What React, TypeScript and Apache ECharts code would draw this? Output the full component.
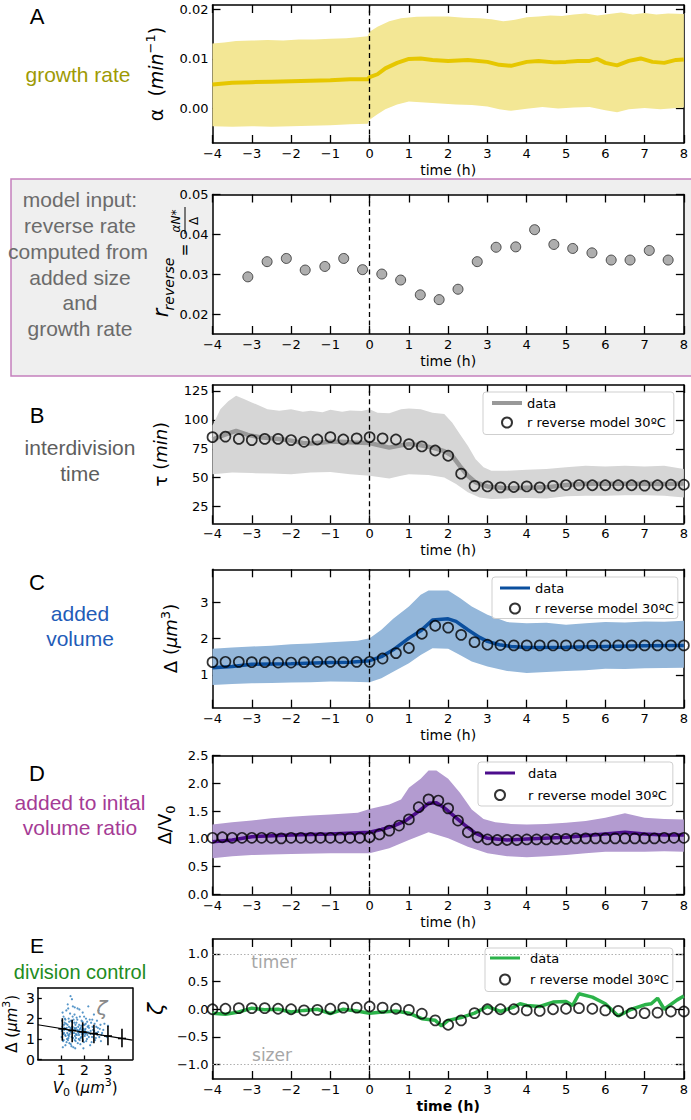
import React, { useEffect, useRef } from "react";
import * as echarts from "echarts";

const FONT = "DejaVu Sans";
const SANS = "Liberation Sans";
const MODEL_LABEL = "r reverse model 30ºC";

// ---------- ticks ----------
const timeTicks = [-4, -3, -2, -1, 0, 1, 2, 3, 4, 5, 6, 7, 8];
const alphaTicks = [0, 0.01, 0.02];
const rTicks = [0.02, 0.03, 0.04, 0.05];
const tauTicks = [25, 50, 75, 100, 125];
const volTicks = [1, 2, 3];
const ratioTicks = [0, 0.5, 1, 1.5, 2, 2.5];
const zetaTicks = [-1, -0.5, 0, 0.5, 1];
const insetXTicks = [1, 2, 3];
const insetYTicks = [0, 1, 2, 3];

// ---------- A: growth rate ----------
const alphaMean = [[-4, 0.00485], [-3.5, 0.0052], [-3, 0.0053], [-2.5, 0.0054], [-2, 0.0055], [-1.5, 0.0056], [-1, 0.0057], [-0.5, 0.0059], [-0.05, 0.0059], [0, 0.0063], [0.2, 0.0069], [0.4, 0.0081], [0.7, 0.0092], [1, 0.01], [1.3, 0.0101], [1.6, 0.0098], [2, 0.0096], [2.5, 0.0098], [3, 0.0094], [3.3, 0.0088], [3.6, 0.0086], [4, 0.0094], [4.3, 0.0096], [4.7, 0.0093], [5, 0.0094], [5.3, 0.0096], [5.6, 0.0096], [5.8, 0.01], [6, 0.0092], [6.3, 0.0087], [6.6, 0.0096], [6.9, 0.0101], [7.2, 0.0094], [7.5, 0.0092], [7.8, 0.0098], [8, 0.0099]];
const alphaUpper = [[-4, 0.0131], [-3.7, 0.0133], [-3.4, 0.0136], [-3, 0.0137], [-2.6, 0.0138], [-2.2, 0.0137], [-1.8, 0.0139], [-1.4, 0.0139], [-1, 0.0141], [-0.6, 0.0142], [-0.3, 0.0144], [-0.05, 0.0146], [0, 0.0155], [0.2, 0.0165], [0.5, 0.0176], [0.8, 0.0182], [1.2, 0.0185], [1.6, 0.0186], [2, 0.0186], [2.4, 0.0183], [2.8, 0.0182], [3.1, 0.018], [3.4, 0.0176], [3.7, 0.0179], [4, 0.0184], [4.3, 0.0186], [4.6, 0.0188], [4.9, 0.0187], [5.2, 0.019], [5.5, 0.0192], [5.8, 0.0188], [6.1, 0.0191], [6.4, 0.0194], [6.7, 0.019], [7, 0.0193], [7.3, 0.019], [7.6, 0.0192], [8, 0.0191]];
const alphaLower = [[-4, -0.0036], [-3.5, -0.0037], [-3, -0.0036], [-2.5, -0.0037], [-2, -0.0036], [-1.5, -0.0035], [-1, -0.0034], [-0.5, -0.0032], [-0.05, -0.0031], [0, -0.0023], [0.2, -0.0012], [0.4, -0.0002], [0.7, 0.0008], [1, 0.0014], [1.4, 0.0012], [1.8, 0.001], [2.2, 0.0008], [2.6, 0.0007], [3, 0.0004], [3.3, -0.0002], [3.6, -0.0005], [4, -0.0001], [4.4, 0.0003], [4.8, 0], [5.2, 0.0002], [5.6, 0.0003], [6, -0.0004], [6.3, -0.0008], [6.6, -0.0002], [7, 0.0001], [7.4, -0.0002], [8, 0.0002]];

// ---------- reverse rate ----------
const rRevTime = [-3.1, -2.61, -2.12, -1.64, -1.14, -0.66, -0.18, 0.31, 0.79, 1.29, 1.77, 2.25, 2.74, 3.22, 3.72, 4.2, 4.69, 5.17, 5.66, 6.15, 6.63, 7.12, 7.6];
const rRevValue = [0.0294, 0.0332, 0.034, 0.0311, 0.032, 0.034, 0.0312, 0.0301, 0.0286, 0.0249, 0.0237, 0.0263, 0.0332, 0.0368, 0.0369, 0.0412, 0.0375, 0.0365, 0.0354, 0.0336, 0.0336, 0.036, 0.0336];

// ---------- model time grids ----------
const modelTime = [-4, -3.67, -3.33, -3, -2.67, -2.33, -2, -1.67, -1.33, -1, -0.67, -0.33, 0, 0.33, 0.67, 1, 1.33, 1.67, 2, 2.33, 2.67, 3, 3.33, 3.67, 4, 4.33, 4.67, 5, 5.33, 5.67, 6, 6.33, 6.67, 7, 7.33, 7.67, 8];
const modelTimeQuarter = [-4, -3.75, -3.5, -3.25, -3, -2.75, -2.5, -2.25, -2, -1.75, -1.5, -1.25, -1, -0.75, -0.5, -0.25, 0, 0.25, 0.5, 0.75, 1, 1.25, 1.5, 1.75, 2, 2.25, 2.5, 2.75, 3, 3.25, 3.5, 3.75, 4, 4.25, 4.5, 4.75, 5, 5.25, 5.5, 5.75, 6, 6.25, 6.5, 6.75, 7, 7.25, 7.5, 7.75, 8];

// ---------- B: interdivision time ----------
const tauMean = [[-4, 83], [-3.7, 87], [-3.4, 90.5], [-3.1, 87], [-2.8, 85], [-2.5, 84], [-2.2, 83], [-2, 82], [-1.7, 80], [-1.5, 79.6], [-1.2, 80.5], [-1, 81], [-0.7, 81], [-0.4, 80.5], [0, 80], [0.3, 77.6], [0.5, 76], [0.8, 78], [1, 79], [1.3, 78], [1.6, 76], [1.9, 73], [2.1, 69], [2.3, 60], [2.5, 51.7], [2.7, 46], [3, 42.5], [3.5, 41], [4, 41.4], [4.5, 41.7], [5, 43.7], [5.5, 44.8], [6, 44.8], [6.5, 44.8], [7, 44.8], [7.5, 44.5], [8, 45]];
const tauUpper = [[-4, 95], [-3.9, 102], [-3.8, 109], [-3.6, 116], [-3.4, 120.7], [-3.2, 118], [-3, 115], [-2.8, 112], [-2.6, 109], [-2.3, 107.8], [-2, 109], [-1.7, 107], [-1.5, 107.8], [-1.2, 106.5], [-1, 108.6], [-0.7, 107], [-0.5, 108], [-0.2, 107.5], [0, 109], [0.2, 106], [0.5, 105.7], [0.8, 109], [1, 109.8], [1.3, 109], [1.6, 106], [1.9, 105], [2.1, 97.7], [2.3, 87.6], [2.5, 77.6], [2.7, 66], [2.9, 59], [3.1, 56], [3.5, 56], [4, 57], [4.5, 57.5], [5, 59], [5.5, 60.3], [6, 59.8], [6.5, 60.3], [7, 59.8], [7.5, 60.3], [8, 57.5]];
const tauLower = [[-4, 53], [-3.5, 54.6], [-3, 54], [-2.5, 53.7], [-2, 53], [-1.5, 54.6], [-1, 55], [-0.5, 53], [0, 51.7], [0.5, 49.4], [0.8, 51.7], [1, 53], [1.5, 52.3], [1.9, 50.3], [2.2, 44.5], [2.5, 37.4], [2.8, 33], [3.1, 31.6], [3.5, 32.2], [4, 32.5], [4.5, 32.2], [5, 34], [5.5, 34.5], [6, 34.5], [6.5, 35], [7, 35], [7.5, 34.5], [8, 33]];
const tauModel = [85, 85.5, 83.5, 82.5, 83.5, 83.5, 82.5, 81, 83, 85, 83, 84, 85, 84, 83, 79, 77, 73.5, 69, 53.5, 43, 42.5, 41.7, 42, 42.5, 41.7, 43, 43.7, 43.7, 43.5, 43.5, 43.5, 43.5, 43.2, 43.5, 44, 44];

// ---------- C: added volume ----------
const volMean = [[-4, 1.2], [-3.5, 1.23], [-3, 1.29], [-2, 1.31], [-1, 1.34], [-0.5, 1.35], [0, 1.39], [0.3, 1.5], [0.6, 1.69], [1, 2.01], [1.3, 2.21], [1.6, 2.51], [2, 2.54], [2.2, 2.47], [2.5, 2.24], [2.8, 2.03], [3, 1.92], [3.3, 1.83], [3.6, 1.78], [4, 1.75], [5, 1.76], [6, 1.78], [7, 1.8], [8, 1.81]];
const volUpper = [[-4, 1.72], [-3.5, 1.75], [-3, 1.78], [-2.5, 1.8], [-2, 1.84], [-1.5, 1.86], [-1, 1.9], [-0.3, 1.94], [0, 2.01], [0.3, 2.24], [0.6, 2.54], [1, 2.88], [1.3, 3.2], [1.5, 3.32], [2, 3.32], [2.3, 3.11], [2.6, 2.88], [3, 2.65], [3.5, 2.45], [4, 2.42], [4.5, 2.43], [5, 2.38], [5.5, 2.42], [6, 2.45], [6.5, 2.44], [7, 2.47], [7.5, 2.46], [8, 2.49]];
const volLower = [[-4, 0.72], [-3.5, 0.75], [-3, 0.77], [-2.5, 0.78], [-2, 0.79], [-1.5, 0.8], [-1, 0.82], [-0.5, 0.81], [0, 0.8], [0.3, 0.91], [0.6, 1.09], [1, 1.32], [1.3, 1.55], [1.6, 1.73], [2, 1.72], [2.3, 1.55], [2.6, 1.37], [3, 1.23], [3.5, 1.11], [4, 1.05], [4.5, 1.08], [5, 1.11], [5.5, 1.13], [6, 1.17], [6.5, 1.16], [7, 1.18], [7.5, 1.19], [8, 1.2]];
const volModel = [1.35, 1.36, 1.36, 1.35, 1.35, 1.34, 1.34, 1.35, 1.36, 1.36, 1.35, 1.36, 1.36, 1.45, 1.6, 1.74, 2.13, 2.35, 2.3, 2.1, 1.9, 1.83, 1.82, 1.81, 1.81, 1.81, 1.81, 1.81, 1.81, 1.81, 1.81, 1.81, 1.81, 1.81, 1.81, 1.81, 1.81];

// ---------- D: added to initial volume ratio ----------
const ratioMean = [[-4, 0.95], [-3.5, 0.98], [-3, 1.04], [-2, 1.07], [-1, 1.09], [0, 1.12], [0.3, 1.17], [0.6, 1.23], [0.9, 1.32], [1.2, 1.47], [1.5, 1.64], [1.7, 1.65], [1.9, 1.56], [2.1, 1.44], [2.4, 1.26], [2.7, 1.1], [3, 1.01], [3.5, 0.98], [4, 1], [5, 1.03], [6, 1.09], [6.5, 1.12], [7, 1.09], [7.5, 1.07], [8, 1.07]];
const ratioUpper = [[-4, 1.26], [-3.5, 1.3], [-3, 1.33], [-2.5, 1.37], [-2, 1.4], [-1.5, 1.42], [-1, 1.44], [-0.3, 1.47], [0, 1.54], [0.5, 1.62], [0.8, 1.71], [1, 1.92], [1.3, 2.08], [1.5, 2.23], [1.7, 2.23], [2, 2.08], [2.3, 1.83], [2.6, 1.53], [2.9, 1.36], [3.2, 1.3], [3.6, 1.27], [4, 1.26], [4.5, 1.27], [5, 1.29], [5.5, 1.32], [6, 1.38], [6.5, 1.46], [7, 1.38], [7.5, 1.36], [8, 1.35]];
const ratioLower = [[-4, 0.65], [-3.5, 0.69], [-3, 0.71], [-2.5, 0.72], [-2, 0.73], [-1, 0.74], [0, 0.74], [0.5, 0.83], [1, 0.98], [1.5, 1.12], [2, 1.01], [2.5, 0.86], [3, 0.74], [3.5, 0.69], [4, 0.67], [4.5, 0.69], [5, 0.71], [5.5, 0.74], [6, 0.77], [6.5, 0.77], [7, 0.77], [7.5, 0.78], [8, 0.77]];
const ratioModel = [1.02, 1.03, 1.02, 1.02, 1.02, 1.02, 1.02, 1.01, 1.02, 1.02, 1.02, 1.02, 1.02, 1.02, 1.02, 1.02, 1.03, 1.08, 1.15, 1.24, 1.35, 1.57, 1.71, 1.69, 1.55, 1.33, 1.12, 1.03, 0.99, 0.98, 0.98, 0.98, 0.99, 0.99, 0.99, 1, 1, 1.01, 1.01, 1.01, 1.01, 1.01, 1.01, 1.01, 1.01, 1.01, 1.02, 1.02, 1.02];

// ---------- E: division control ----------
const zetaData = [[-4, -0.07], [-3.67, -0.09], [-3.33, -0.05], [-3, 0.02], [-2.67, -0.01], [-2.33, 0], [-2, -0.05], [-1.67, -0.02], [-1.33, 0], [-1, -0.08], [-0.67, 0], [-0.33, -0.03], [0, -0.07], [0.33, -0.05], [0.67, -0.03], [1, -0.07], [1.33, -0.17], [1.67, -0.2], [1.83, -0.3], [2, -0.2], [2.33, -0.15], [2.67, -0.07], [3, 0.05], [3.33, -0.04], [3.67, 0.04], [3.83, 0.1], [4, 0.07], [4.33, 0.05], [4.67, 0.13], [5, 0.14], [5.17, 0.07], [5.33, 0.28], [5.67, 0.22], [6, 0.1], [6.33, -0.12], [6.67, 0], [7, 0.08], [7.17, 0.1], [7.33, 0.2], [7.5, 0], [7.83, 0.17], [8, 0.24]];
const zetaModel = [0, 0.01, 0.02, 0.02, 0.02, 0.01, 0, -0.02, -0.01, 0.01, 0.03, 0.03, 0.05, 0.03, 0.01, -0.01, -0.08, -0.2, -0.28, -0.2, -0.07, 0, 0, 0, -0.02, -0.03, 0, 0.01, 0.02, 0.01, -0.02, -0.03, -0.07, -0.07, -0.06, -0.04, -0.04];
const zetaRefLines = [1, -1];

// ---------- E inset: added volume vs initial volume ----------
const cloudV0Delta = [
  [1.02, 1.1], [1.05, 1.6], [1.08, 0.9], [1.1, 2.1], [1.12, 1.3], [1.15, 1.8], [1.18, 0.7], [1.2, 1.5], [1.22, 2.4], [1.25, 1.0], [1.27, 1.7], [1.3, 1.2], [1.32, 2.0], [1.35, 0.8], [1.37, 1.4], [1.4, 3.1], [1.42, 1.9], [1.45, 1.1], [1.47, 1.6], [1.5, 2.6], [1.52, 0.6], [1.55, 1.3], [1.57, 2.2], [1.6, 1.5], [1.62, 0.9], [1.65, 1.8], [1.67, 1.2], [1.7, 2.5], [1.72, 1.4], [1.75, 1.0], [1.77, 1.7], [1.8, 2.1], [1.82, 0.75], [1.85, 1.35], [1.87, 1.9], [1.9, 1.15], [1.92, 2.3], [1.95, 1.5], [1.97, 0.85], [2.0, 1.7], [2.03, 1.25], [2.06, 2.0], [2.1, 1.0], [2.13, 1.6], [2.16, 2.6], [2.2, 1.3], [2.24, 0.7], [2.28, 1.8], [2.32, 1.1], [2.36, 1.45], [2.4, 2.2], [2.45, 0.95], [2.5, 1.6], [2.55, 1.2], [2.6, 2.4], [2.65, 1.5], [2.7, 0.9], [2.75, 1.3], [2.85, 1.75], [2.95, 1.1],
  [1.03, 1.4], [1.06, 2.3], [1.09, 1.25], [1.11, 0.95], [1.14, 1.55], [1.16, 2.0], [1.19, 1.15], [1.21, 1.75], [1.23, 0.85], [1.26, 1.45], [1.28, 2.7], [1.31, 1.05], [1.33, 1.6], [1.36, 1.25], [1.38, 2.25], [1.41, 0.75], [1.43, 1.5], [1.46, 1.85], [1.48, 1.3], [1.51, 1.05], [1.53, 1.95], [1.56, 1.55], [1.58, 0.95], [1.61, 1.7], [1.63, 1.25], [1.66, 2.05], [1.68, 1.45], [1.71, 0.8], [1.73, 1.6], [1.76, 1.2], [1.78, 2.45], [1.81, 1.5], [1.83, 1.05], [1.86, 1.65], [1.88, 1.25], [1.91, 1.85], [1.93, 0.95], [1.96, 1.4], [1.98, 2.1], [2.01, 1.15], [2.04, 1.5], [2.07, 0.9], [2.11, 1.85], [2.14, 1.35], [2.18, 1.1], [2.22, 1.95], [2.26, 1.4], [2.3, 0.85], [2.34, 1.6], [2.38, 1.25], [2.43, 1.75], [2.48, 1.05], [2.53, 1.9], [2.58, 1.35], [2.63, 1.1], [2.68, 1.7], [2.8, 1.45], [3.0, 1.65],
  [1.0, 1.5], [1.04, 1.9], [1.07, 0.6], [1.13, 1.45], [1.17, 1.2], [1.24, 1.55], [1.29, 0.95], [1.34, 1.85], [1.39, 1.55], [1.44, 0.65], [1.49, 2.1], [1.54, 1.45], [1.59, 1.15], [1.64, 1.55], [1.69, 1.95], [1.74, 1.3], [1.79, 0.95], [1.84, 1.55], [1.89, 1.45], [1.94, 1.7], [1.99, 1.3], [2.05, 1.75], [2.12, 1.2], [2.19, 1.55], [2.25, 1.25], [2.33, 1.95], [2.41, 1.4], [2.49, 1.3], [2.57, 1.55], [2.72, 1.2], [1.12, 1.7], [1.26, 1.3], [1.41, 1.35], [1.56, 1.8], [1.71, 1.35], [1.86, 1.1], [2.02, 1.45], [2.17, 1.65], [1.18, 1.95], [1.33, 1.15], [1.48, 1.6], [1.63, 1.05], [1.78, 1.45], [1.93, 1.25], [2.08, 1.3], [1.46, 2.95], [1.58, 2.55], [1.3, 2.5], [1.95, 0.55], [1.6, 0.55]
];
const fitV0 = [0, 4.05];
const fitDelta = [1.7, 0.95];
const binV0 = [1.05, 1.47, 1.92, 2.4, 3.0, 3.6];
const binMean = [1.5, 1.42, 1.35, 1.27, 1.15, 1.03];
const binLow = [0.92, 0.85, 0.85, 0.8, 0.7, 0.6];
const binHigh = [2.02, 1.95, 1.82, 1.7, 1.65, 1.5];

// ---------- helpers ----------
const zip = (a: number[], b: number[]) => a.map((v, i) => [v, b[i]]);
const minusFmt = (digits: number) => (v: number) => {
  const s = Math.abs(v).toFixed(digits);
  return v < 0 ? "\u2212" + s : s;
};

const rich = (size: number) => ({
  n: { fontFamily: FONT, fontSize: size, lineHeight: size + 6, color: "#000" },
  i: { fontFamily: FONT, fontSize: size, fontStyle: "italic", lineHeight: size + 6, color: "#000" },
  s: { fontFamily: FONT, fontSize: Math.round(size * 0.7), verticalAlign: "top", lineHeight: Math.round(size * 0.7), color: "#000" },
  b: { fontFamily: FONT, fontSize: Math.round(size * 0.7), verticalAlign: "bottom", lineHeight: Math.round(size * 0.7), color: "#000" },
});

const grids: any[] = [];
const xAxes: any[] = [];
const yAxes: any[] = [];

function addPanel(c: any) {
  const g = grids.length;
  grids.push({
    left: c.left, top: c.top, width: c.width, height: c.height,
    show: !!c.bg, backgroundColor: c.bg || "transparent", borderWidth: 0,
  });
  const line = { show: true, onZero: false, lineStyle: { color: "#000", width: 1.5 } };
  const tick = (show: boolean, values: number[]) => ({
    show, inside: true, length: c.tickLen, customValues: values,
    lineStyle: { color: "#000", width: 1.3 },
  });
  const lbl = (values: number[], fmt: any) => ({
    show: true, customValues: values, formatter: fmt, color: "#000",
    fontFamily: FONT, fontSize: c.labelSize, margin: c.labelMargin,
  });
  xAxes.push({
    type: "value", gridIndex: g, position: "bottom", min: c.xMin, max: c.xMax,
    axisLine: line, axisTick: tick(true, c.xTicks), axisLabel: lbl(c.xTicks, c.xFmt),
    splitLine: { show: false },
    name: c.xName, nameLocation: "middle", nameGap: c.xNameGap,
    nameTextStyle: c.xNameStyle,
  });
  xAxes.push({
    type: "value", gridIndex: g, position: "top", min: c.xMin, max: c.xMax,
    axisLine: line, axisTick: tick(c.mirror, c.xTicks), axisLabel: { show: false },
    splitLine: { show: false },
  });
  yAxes.push({
    type: "value", gridIndex: g, position: "left", min: c.yMin, max: c.yMax,
    axisLine: line, axisTick: tick(true, c.yTicks), axisLabel: lbl(c.yTicks, c.yFmt),
    splitLine: { show: false },
    name: c.yName, nameLocation: "middle", nameRotate: 90, nameGap: c.yNameGap,
    nameTextStyle: c.yNameStyle,
  });
  yAxes.push({
    type: "value", gridIndex: g, position: "right", min: c.yMin, max: c.yMax,
    axisLine: line, axisTick: tick(c.mirror, c.yTicks), axisLabel: { show: false },
    splitLine: { show: false },
  });
  return g;
}

const PL = 212.5;
const PW = 474;
const timeName = { fontFamily: FONT, fontSize: 14, color: "#000" };
const base = {
  left: PL, width: PW, xMin: -4, xMax: 8, xTicks: timeTicks, xFmt: minusFmt(0),
  xName: "time (h)", xNameGap: 20, xNameStyle: timeName, tickLen: 8,
  labelSize: 13, labelMargin: 4, mirror: true,
};

function band(g: number, upper: number[][], lower: number[][], color: string) {
  return {
    type: "custom", xAxisIndex: 2 * g, yAxisIndex: 2 * g, silent: true, z: 1, clip: true,
    data: [upper[0]],
    encode: { x: 0, y: 1 },
    renderItem: (_p: any, api: any) => {
      const pts = upper.map((p) => api.coord(p)).concat(lower.slice().reverse().map((p) => api.coord(p)));
      return { type: "polygon", shape: { points: pts }, style: { fill: color } };
    },
  };
}

const zeroLine = (extra: any[] = []) => ({
  silent: true, symbol: ["none", "none"], label: { show: false },
  lineStyle: { color: "#000", type: [5, 3.5], width: 1.3 },
  data: [{ xAxis: 0 }, ...extra],
});

function meanLine(g: number, name: string, data: number[][], color: string, width: number, markLine?: any) {
  const s: any = {
    type: "line", name, xAxisIndex: 2 * g, yAxisIndex: 2 * g, data, symbol: "none",
    lineStyle: { color, width }, itemStyle: { color }, z: 3, clip: true,
  };
  if (markLine) s.markLine = markLine;
  return s;
}

function modelScatter(g: number, name: string, xs: number[], ys: number[]) {
  return {
    type: "scatter", name, xAxisIndex: 2 * g, yAxisIndex: 2 * g, data: zip(xs, ys),
    symbol: "circle", symbolSize: 10, z: 4,
    itemStyle: { color: "rgba(255,255,255,0)", borderColor: "#000", borderWidth: 1.7 },
  };
}

function legendFor(prefix: string, left: number, top: number, padding: number[], gap: number, textPad: number, lineW: number) {
  return {
    orient: "vertical", left, top, padding, itemGap: gap, itemWidth: 30, itemHeight: 10,
    data: [
      { name: prefix + " data", icon: "path://M0,0H30V" + lineW + "H0Z" },
      { name: prefix + " model", icon: "circle" },
    ],
    formatter: (n: string) => (n.endsWith("data") ? "data" : MODEL_LABEL),
    selectedMode: false,
    backgroundColor: "rgba(255,255,255,0.85)", borderColor: "#cfcfcf", borderWidth: 1, borderRadius: 3,
    textStyle: { fontFamily: FONT, fontSize: 13, color: "#000", lineHeight: 14, padding: [0, 0, 0, textPad] },
  };
}

// ---------- panels ----------
const gA = addPanel({
  ...base, top: 5, height: 138, yMin: -0.007, yMax: 0.0209, yTicks: alphaTicks, yFmt: minusFmt(2),
  yName: "{n|α}  ({i|min}{s|−1})", yNameGap: 39, yNameStyle: { fontFamily: FONT, fontSize: 19, lineHeight: 25, rich: rich(19) },
});
const gR = addPanel({
  ...base, top: 194.5, height: 139.5, yMin: 0.0151, yMax: 0.05, yTicks: rTicks, yFmt: minusFmt(2),
  yName: "", yNameGap: 40, yNameStyle: {}, bg: "#ffffff",
});
const gB = addPanel({
  ...base, top: 385, height: 138.3, yMin: 10.7, yMax: 130, yTicks: tauTicks, yFmt: minusFmt(0),
  yName: "{n|τ} ({i|min})", yNameGap: 33, yNameStyle: { fontFamily: FONT, fontSize: 18, lineHeight: 24, rich: rich(18) },
});
const gC = addPanel({
  ...base, top: 569.3, height: 138.4, yMin: 0.1, yMax: 3.9, yTicks: volTicks, yFmt: minusFmt(0),
  yName: "{n|Δ} ({i|μm}{s|3})", yNameGap: 30, yNameStyle: { fontFamily: FONT, fontSize: 18, lineHeight: 24, rich: rich(18) },
});
const gD = addPanel({
  ...base, top: 755.5, height: 139, yMin: 0, yMax: 2.5, yTicks: ratioTicks, yFmt: minusFmt(1),
  yName: "{n|Δ/V}{b|0}", yNameGap: 27, yNameStyle: { fontFamily: FONT, fontSize: 18, lineHeight: 24, rich: rich(18) },
});
const gE = addPanel({
  ...base, top: 939, height: 140, yMin: -1.26, yMax: 1.27, yTicks: zetaTicks, yFmt: minusFmt(1),
  xNameStyle: { ...timeName, fontWeight: "bold" },
  yName: "ζ", yNameGap: 31, yNameStyle: { fontFamily: FONT, fontSize: 22, fontStyle: "italic", color: "#000" },
});
const gI = addPanel({
  left: 37.5, top: 988, width: 95, height: 71.5, xMin: 0, xMax: 4.05, xTicks: insetXTicks, xFmt: minusFmt(0),
  xName: "{i|V}{b|0} ({i|μm}{s|3})", xNameGap: 13,
  xNameStyle: { fontFamily: FONT, fontSize: 15, lineHeight: 20, rich: rich(15) },
  yMin: 0, yMax: 3.5, yTicks: insetYTicks, yFmt: minusFmt(0),
  yName: "{n|Δ} ({i|μm}{s|3})", yNameGap: 12,
  yNameStyle: { fontFamily: FONT, fontSize: 15, lineHeight: 20, rich: rich(15) },
  tickLen: 4, labelSize: 14, labelMargin: 3, mirror: false,
});

const series: any[] = [
  // A
  band(gA, alphaUpper, alphaLower, "#f3e795"),
  meanLine(gA, "A data", alphaMean, "#e6c700", 4, zeroLine()),
  // reverse rate
  {
    type: "scatter", name: "reverse rate", xAxisIndex: 2 * gR, yAxisIndex: 2 * gR,
    data: zip(rRevTime, rRevValue), symbol: "circle", symbolSize: 10, z: 4,
    itemStyle: { color: "#9a9a9a", borderColor: "#2a2a2a", borderWidth: 1 },
    markLine: zeroLine(),
  },
  // B
  band(gB, tauUpper, tauLower, "#d6d6d6"),
  meanLine(gB, "B data", tauMean, "#999999", 4.5, zeroLine()),
  modelScatter(gB, "B model", modelTime, tauModel),
  // C
  band(gC, volUpper, volLower, "#94b7da"),
  meanLine(gC, "C data", volMean, "#0b4f9e", 3.5, zeroLine()),
  modelScatter(gC, "C model", modelTime, volModel),
  // D
  band(gD, ratioUpper, ratioLower, "#b39bd0"),
  meanLine(gD, "D data", ratioMean, "#4c0d8c", 3.5, zeroLine()),
  modelScatter(gD, "D model", modelTimeQuarter, ratioModel),
  // E
  meanLine(gE, "E data", zetaData, "#2cb34a", 3.5, zeroLine(
    zetaRefLines.map((v) => ({ yAxis: v, lineStyle: { color: "#b0b0b0", type: [1.5, 2], width: 1 } }))
  )),
  modelScatter(gE, "E model", modelTime, zetaModel),
  // inset
  {
    type: "scatter", name: "cells", xAxisIndex: 2 * gI, yAxisIndex: 2 * gI, data: cloudV0Delta,
    symbol: "circle", symbolSize: 2.2, z: 2, itemStyle: { color: "#2b7bba", opacity: 0.8 },
  },
  {
    type: "line", name: "fit", xAxisIndex: 2 * gI, yAxisIndex: 2 * gI, data: zip(fitV0, fitDelta),
    symbol: "none", lineStyle: { color: "#000", width: 1.2 }, z: 3,
  },
  {
    type: "custom", name: "bins", xAxisIndex: 2 * gI, yAxisIndex: 2 * gI, z: 4,
    data: binV0.map((x, i) => [x, binMean[i], binLow[i], binHigh[i]]),
    encode: { x: 0, y: 1 },
    renderItem: (_p: any, api: any) => {
      const x = api.value(0);
      const lo = api.coord([x, api.value(2)]);
      const hi = api.coord([x, api.value(3)]);
      const m = api.coord([x, api.value(1)]);
      return {
        type: "group",
        children: [
          { type: "line", shape: { x1: lo[0], y1: lo[1], x2: hi[0], y2: hi[1] }, style: { stroke: "#000", lineWidth: 1.6 } },
          { type: "line", shape: { x1: m[0] - 4, y1: m[1], x2: m[0] + 4, y2: m[1] }, style: { stroke: "#000", lineWidth: 1.6 } },
        ],
      };
    },
  },
];

const legends = [
  legendFor("B", 483, 392, [4, 8, 5, 9], 5.5, 0, 4),
  legendFor("C", 492, 577, [4, 4, 3, 8], 6.5, 0, 3),
  legendFor("D", 478, 762, [4, 6, 4, 7], 8, 8, 3),
  legendFor("E", 485, 948, [3, 4, 5, 5], 7.5, 5, 3),
];

const leftText = (text: string, x: number, y: number, size: number, color: string) => ({
  type: "text", x, y, silent: true, z: 10,
  style: { text, fontFamily: SANS, fontSize: size, fill: color, align: "center", verticalAlign: "middle" },
});
const rotText = (text: string, x: number, y: number, size: number, italic: boolean) => ({
  type: "text", x, y, rotation: Math.PI / 2, silent: true, z: 10,
  style: { text, fontFamily: FONT, fontSize: size, fontStyle: italic ? "italic" : "normal", fill: "#000", align: "center", verticalAlign: "middle" },
});

const graphics: any[] = [
  { type: "rect", z: -10, silent: true, shape: { x: 11, y: 179, width: 682, height: 197 }, style: { fill: "#efefef", stroke: "#c580bd", lineWidth: 1.5 } },
  leftText("A", 37, 16, 22, "#000"),
  leftText("growth rate", 78, 74, 21, "#9e9a05"),
  leftText("model input:", 80, 199, 21, "#6b6b6b"),
  leftText("reverse rate", 80, 225, 21, "#6b6b6b"),
  leftText("computed from", 78, 251, 21, "#6b6b6b"),
  leftText("added size", 80, 277, 21, "#6b6b6b"),
  leftText("and", 80, 302, 21, "#6b6b6b"),
  leftText("growth rate", 80, 328, 21, "#6b6b6b"),
  leftText("B", 37, 415, 22, "#000"),
  leftText("interdivision", 80, 447, 21, "#5e5e5e"),
  leftText("time", 80, 473, 21, "#5e5e5e"),
  leftText("C", 37, 582, 22, "#000"),
  leftText("added", 80, 613, 21, "#1f5cb8"),
  leftText("volume", 80, 638, 21, "#1f5cb8"),
  leftText("D", 37, 773, 22, "#000"),
  leftText("added to inital", 80, 802, 21, "#a53b95"),
  leftText("volume ratio", 80, 827, 21, "#a53b95"),
  leftText("E", 37, 945, 21, "#000"),
  leftText("division control", 80, 972, 20, "#1e8c1e"),
  // reverse-rate axis title pieces
  rotText("r", 161, 313, 21, true),
  rotText("reverse", 169, 284, 14, true),
  rotText("=", 185, 250, 15, false),
  rotText("αN*", 176, 221, 12, true),
  { type: "line", silent: true, z: 10, shape: { x1: 185, y1: 207, x2: 185, y2: 234 }, style: { stroke: "#000", lineWidth: 1 } },
  rotText("Δ", 194, 221, 12, false),
  // E annotations
  { type: "text", x: 274, y: 962, silent: true, z: 10, style: { text: "timer", fontFamily: FONT, fontSize: 17, fill: "#a6a6a6", align: "center", verticalAlign: "middle" } },
  { type: "text", x: 272, y: 1055, silent: true, z: 10, style: { text: "sizer", fontFamily: FONT, fontSize: 17, fill: "#a6a6a6", align: "center", verticalAlign: "middle" } },
  { type: "text", x: 102, y: 1008, silent: true, z: 10, style: { text: "ζ", fontFamily: FONT, fontSize: 20, fontStyle: "italic", fill: "#8a8a8a", align: "center", verticalAlign: "middle" } },
];

export default function App() {
  const ref = useRef<HTMLDivElement>(null);
  useEffect(() => {
    document.body.style.margin = "0";
    if (!ref.current) return;
    const chart = echarts.init(ref.current, undefined, { renderer: "svg" });
    chart.setOption({
      animation: false,
      backgroundColor: "#ffffff",
      textStyle: { fontFamily: FONT },
      grid: grids,
      xAxis: xAxes,
      yAxis: yAxes,
      legend: legends,
      series,
      graphic: { elements: graphics },
    });
    return () => chart.dispose();
  }, []);
  return <div ref={ref} style={{ width: 691, height: 1120 }} />;
}
